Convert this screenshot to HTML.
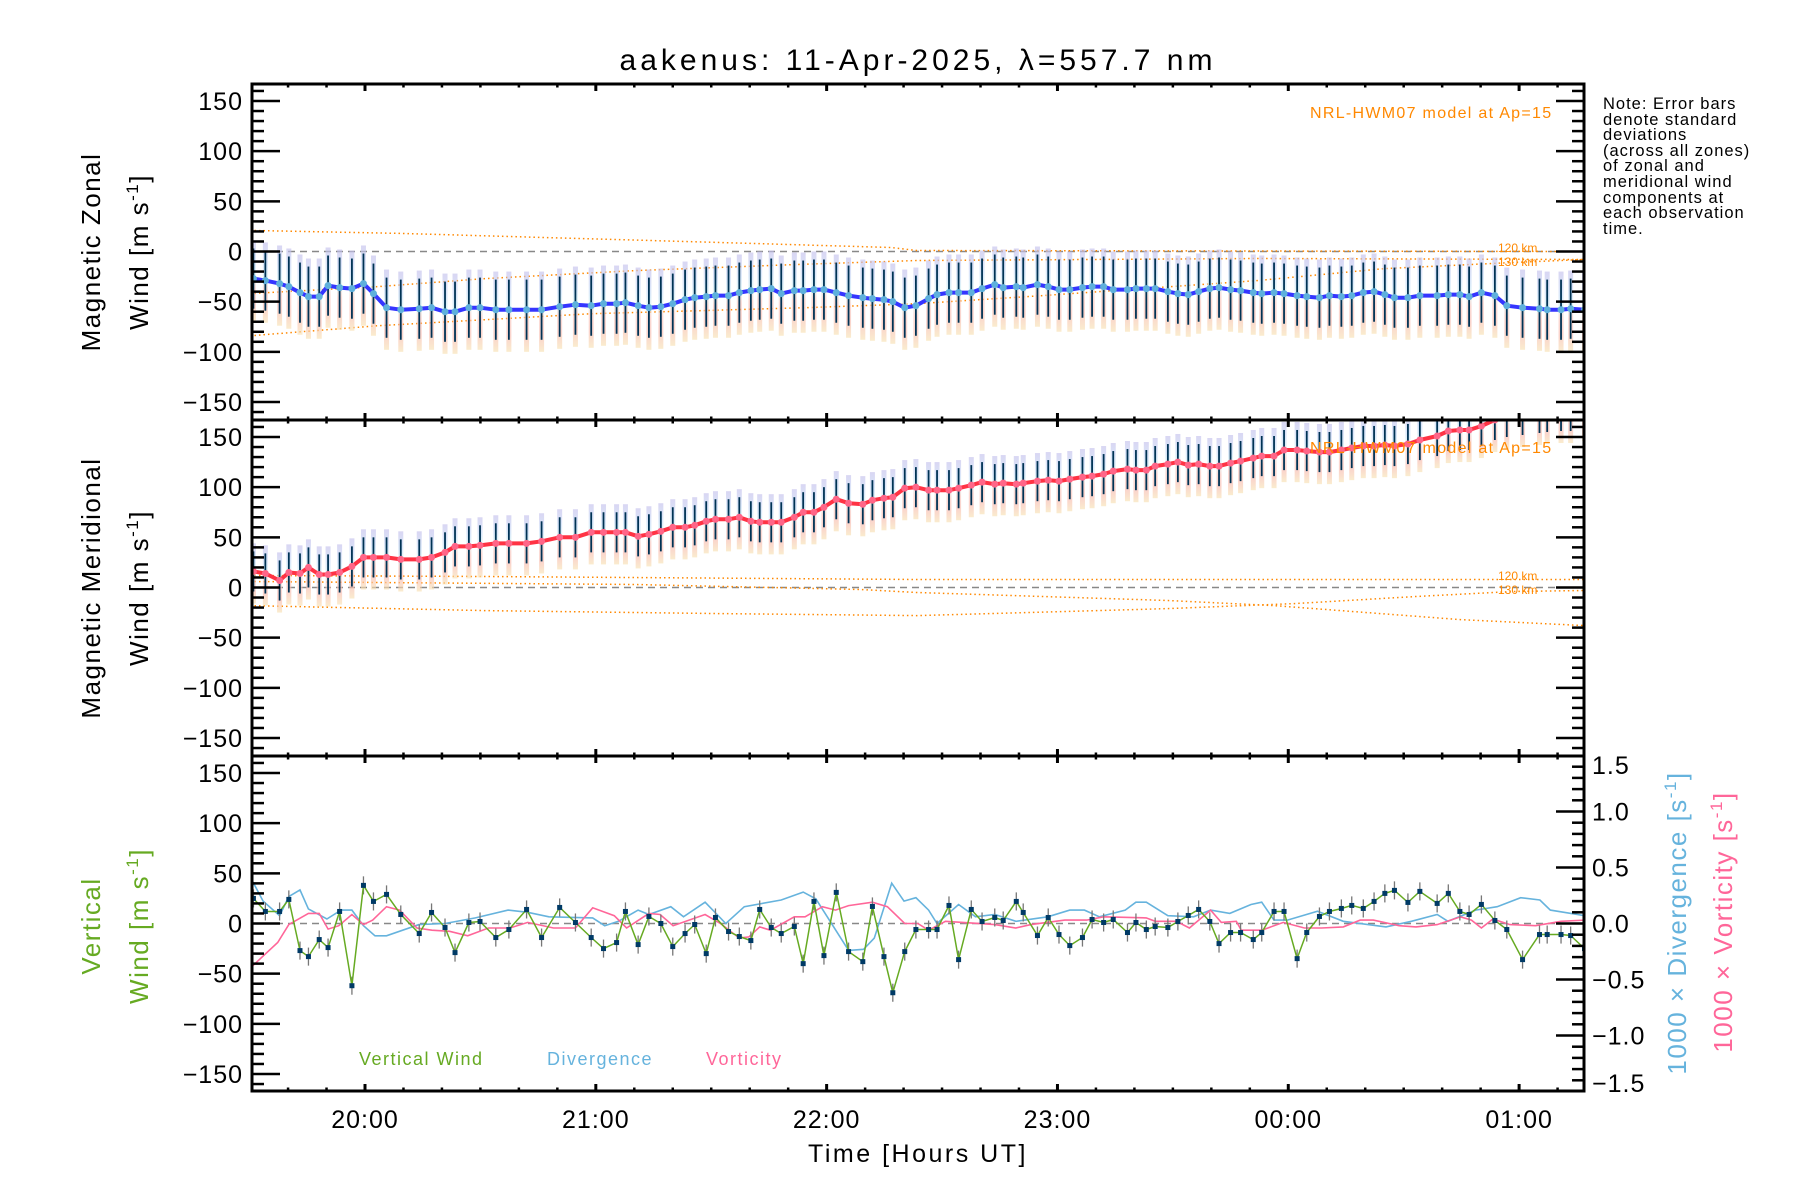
<!DOCTYPE html>
<html><head><meta charset="utf-8"><title>aakenus winds</title>
<style>
html,body{margin:0;padding:0;background:#fff;}
svg{display:block;font-family:"Liberation Sans",sans-serif;}
</style></head>
<body>
<svg id="chart" width="1800" height="1200" viewBox="0 0 1800 1200" xmlns="http://www.w3.org/2000/svg">
<defs>
<linearGradient id="zoneGrad" x1="0" y1="0" x2="0" y2="1">
<stop offset="0" stop-color="#c4c0ec"/><stop offset="0.3" stop-color="#c6dcf6"/><stop offset="0.45" stop-color="#d0f0f0"/><stop offset="0.6" stop-color="#f8c4bc"/><stop offset="0.8" stop-color="#f8bcb0"/><stop offset="1" stop-color="#f8e2b4"/>
</linearGradient>
<clipPath id="clip1"><rect x="252" y="84" width="1332" height="336"/></clipPath>
<clipPath id="clip2"><rect x="252" y="420" width="1332" height="336"/></clipPath>
<clipPath id="clip3"><rect x="252" y="756" width="1332" height="335"/></clipPath>
</defs>
<g id="layer"></g>
<text x="918" y="70" text-anchor="middle" font-size="30" letter-spacing="4">aakenus: 11-Apr-2025, λ=557.7 nm</text>
<text x="1310" y="118" font-size="16" letter-spacing="1.3" fill="#ff8800">NRL-HWM07 model at Ap=15</text>
<text x="1310" y="453" font-size="16" letter-spacing="1.3" fill="#ff8800">NRL-HWM07 model at Ap=15</text>
<text x="1498" y="252" font-size="12" fill="#ff8800">120 km</text>
<text x="1498" y="266" font-size="12" fill="#ff8800">130 km</text>
<text x="1498" y="580" font-size="12" fill="#ff8800">120 km</text>
<text x="1498" y="594" font-size="12" fill="#ff8800">130 km</text>
<g font-size="16.5" letter-spacing="1">
<text x="1603" y="109">Note: Error bars</text>
<text x="1603" y="125">denote standard</text>
<text x="1603" y="140">deviations</text>
<text x="1603" y="156">(across all zones)</text>
<text x="1603" y="171">of zonal and</text>
<text x="1603" y="187">meridional wind</text>
<text x="1603" y="203">components at</text>
<text x="1603" y="218">each observation</text>
<text x="1603" y="234">time.</text>
</g>
<text transform="translate(100,252) rotate(-90)" text-anchor="middle" font-size="26" letter-spacing="1.5">Magnetic Zonal</text>
<text transform="translate(148,252) rotate(-90)" text-anchor="middle" font-size="26" letter-spacing="1.5">Wind [m s<tspan font-size="17" dy="-10">-1</tspan><tspan dy="10">]</tspan></text>
<text transform="translate(100,588) rotate(-90)" text-anchor="middle" font-size="26" letter-spacing="1.5">Magnetic Meridional</text>
<text transform="translate(148,588) rotate(-90)" text-anchor="middle" font-size="26" letter-spacing="1.5">Wind [m s<tspan font-size="17" dy="-10">-1</tspan><tspan dy="10">]</tspan></text>
<text transform="translate(100,926) rotate(-90)" text-anchor="middle" font-size="26" letter-spacing="1.5" fill="#66aa22">Vertical</text>
<text transform="translate(148,926) rotate(-90)" text-anchor="middle" font-size="26" letter-spacing="1.5" fill="#66aa22">Wind [m s<tspan font-size="17" dy="-10">-1</tspan><tspan dy="10">]</tspan></text>
<text transform="translate(1686,923) rotate(-90)" text-anchor="middle" font-size="26" letter-spacing="1.5" fill="#66b3dd">1000 × Divergence [s<tspan font-size="17" dy="-10">-1</tspan><tspan dy="10">]</tspan></text>
<text transform="translate(1732,922) rotate(-90)" text-anchor="middle" font-size="26" letter-spacing="1.5" fill="#ff6699">1000 × Vorticity [s<tspan font-size="17" dy="-10">-1</tspan><tspan dy="10">]</tspan></text>
<text x="359" y="1065" font-size="18" letter-spacing="1.5" fill="#66aa22">Vertical Wind</text>
<text x="547" y="1065" font-size="18" letter-spacing="1.5" fill="#66b3dd">Divergence</text>
<text x="706" y="1065" font-size="18" letter-spacing="1.5" fill="#ff6699">Vorticity</text>
<text x="918" y="1162" text-anchor="middle" font-size="25" letter-spacing="2.5">Time [Hours UT]</text>
</svg>
<script>
// ---- data (time in minutes after 20:00 UT) ----
const T=[-29.0,-25.9,-22.2,-19.8,-16.9,-14.7,-11.9,-9.6,-6.6,-3.4,-0.4,2.2,5.6,9.3,14.1,17.3,20.8,23.4,27.0,29.9,34.0,37.4,42.0,45.9,50.6,54.7,58.8,62.0,65.4,67.7,71.0,73.8,76.9,80.0,83.2,85.7,88.7,91.1,94.5,97.3,100.3,102.6,105.6,108.2,111.6,113.9,116.7,119.3,122.5,125.7,129.4,131.9,134.9,137.2,140.3,143.2,146.5,148.7,151.8,154.3,157.6,160.4,163.7,165.9,169.3,171.1,174.8,177.6,180.4,183.2,186.5,189.0,192.0,194.5,198.2,200.4,203.1,205.4,208.7,211.3,214.0,216.7,219.6,222.0,225.0,227.6,230.9,233.1,236.3,238.9,242.3,244.8,248.1,250.7,253.8,256.5,259.5,262.3,265.1,267.6,271.1,274.2,278.7,281.6,284.6,287.0,290.2,293.7,296.8,300.9,305.3,307.3,310.9,313.4,317.0];
const ZON=[-27,-29,-32,-35,-41,-45,-45,-34,-36,-37,-32,-42,-56,-58,-57,-56,-60,-60,-56,-56,-58,-58,-58,-58,-55,-53,-54,-52,-52,-51,-54,-56,-55,-52,-48,-46,-45,-44,-44,-41,-39,-38,-37,-42,-39,-39,-38,-38,-41,-44,-46,-47,-48,-50,-56,-54,-47,-43,-41,-41,-41,-37,-33,-36,-35,-36,-33,-35,-38,-38,-36,-35,-35,-38,-38,-37,-37,-37,-40,-42,-43,-40,-37,-36,-38,-39,-41,-42,-41,-42,-44,-45,-46,-44,-45,-44,-41,-40,-43,-46,-46,-44,-44,-43,-43,-45,-41,-44,-54,-56,-57,-58,-58,-57,-58];
const MER=[16,14,7,15,14,20,13,13,15,21,30,30,30,28,28,30,35,41,41,42,44,44,44,46,50,50,55,55,55,55,51,53,56,60,60,62,66,68,68,70,66,65,65,65,70,75,75,80,88,84,83,87,89,90,99,100,97,97,97,99,102,105,103,104,103,104,106,107,106,108,110,111,113,116,118,117,117,121,123,125,122,123,121,121,124,126,129,131,131,137,137,136,135,135,137,139,141,141,142,141,143,147,151,156,157,157,161,167,170,172,174,175,176,176,178];
const VERT=[25,12,12,24,-27,-33,-16,-24,12,-62,38,22,29,9,-10,11,-4,-29,1,2,-14,-6,14,-14,16,1,-14,-25,-19,12,-21,7,0,-23,-10,-1,-30,6,-8,-13,-17,14,-4,-10,-3,-40,22,-32,31,-28,-38,17,-33,-69,-28,-6,-6,-6,18,-36,14,2,6,3,22,11,-12,6,-11,-22,-14,4,1,4,-9,1,-6,-3,-4,2,8,14,2,-20,-9,-9,-16,-9,12,12,-35,-9,7,12,15,18,15,22,30,33,21,32,20,30,12,9,19,3,-6,-36,-11,-11,-11,-12,-25];
const ZON_SD=30, MER_SD=20, VERT_SD=9;
const DIV_T=[-29.9,-26.5,-22.2,-19.8,-16.9,-14.7,-9.9,-6.2,-3.4,-0.4,2.6,5.6,14.0,20.8,28.7,37.2,42.3,47.8,59.2,62.3,65.9,71.0,73.8,79.5,82.8,88.4,93.8,98.6,108.2,113.9,117.2,125.7,129.6,132.4,136.9,140.1,143.2,146.5,148.7,154.3,158.7,163.7,169.2,177.5,183.2,187.0,190.9,197.6,200.4,203.1,208.7,215.4,219.8,224.8,230.3,233.1,236.3,239.8,247.6,254.3,265.4,272.0,278.7,281.5,288.7,294.3,300.4,305.4,308.1,317.0];
const DIV_V=[0.42,0.20,0.07,0.24,0.30,0.13,0.04,0.12,0.12,-0.02,-0.11,-0.11,-0.01,0.0,0.05,0.12,0.10,0.06,0.05,-0.02,0.02,0.12,0.08,0.15,0.06,0.19,0.0,0.15,0.21,0.28,0.22,-0.24,-0.23,-0.13,0.36,0.20,0.23,0.12,0.0,0.17,0.06,0.08,0.02,0.06,0.12,0.12,0.06,0.12,0.19,0.19,0.07,0.06,0.12,0.09,0.17,0.19,0.03,0.03,0.11,0.02,-0.03,0.02,0.08,0.02,0.12,0.15,0.23,0.21,0.12,0.07];
const VOR_T=[-29.9,-22.7,-19.8,-14.7,-11.9,-9.6,-6.8,-3.4,-0.4,2.0,5.6,9.0,13.5,17.4,22.0,26.7,32.1,37.7,42.3,49.0,54.7,59.2,64.8,68.0,73.8,76.7,80.1,88.4,92.4,97.3,99.8,102.6,105.4,111.6,114.4,118.9,122.3,125.7,131.9,135.8,140.3,143.7,146.5,150.9,155.4,163.7,169.2,173.1,181.9,187.6,192.0,203.1,205.4,210.9,214.3,219.8,222.6,226.5,227.8,233.1,238.7,244.2,248.6,254.3,258.7,262.1,268.8,273.2,278.7,284.8,287.6,290.2,293.2,297.6,304.3,310.9,317.0];
const VOR_V=[-0.40,-0.17,-0.01,0.09,0.09,-0.05,-0.02,0.08,-0.01,0.03,0.15,0.12,-0.04,-0.06,-0.07,-0.11,-0.04,-0.04,0.01,-0.04,-0.04,0.14,0.07,-0.04,0.09,0.08,-0.02,0.08,0.0,-0.13,-0.12,-0.03,-0.06,0.06,0.06,0.15,0.12,0.16,0.19,0.15,0.0,0.0,-0.06,0.02,0.01,-0.01,-0.04,-0.01,0.03,0.03,0.06,0.05,0.02,0.02,-0.04,0.12,0.01,0.02,-0.06,-0.06,0.01,-0.04,-0.04,-0.03,0.03,0.03,-0.02,-0.03,-0.01,0.06,0.03,-0.04,0.04,-0.01,-0.02,0.02,0.03];
// model (HWM07) curves
const MZ120_T=[-29.9,9.1,92.3,136.7,143.5,317], MZ120_V=[21,18,9,4,1,0];
const MZ130_T=[-29.9,3.4,31.2,70.2,112.3,143.5,231.9,317], MZ130_V=[-42,-35,-27,-19,-13,-9,-7,-8];
const MZ3_T=[-29.9,3.4,59,114.6,143.5,176.2,231.9,265.1,298.4,317], MZ3_V=[-84,-74,-62,-56,-52,-44,-29,-17,-11,-8];
const MM120_T=[-29.9,31.2,143.5,317], MM120_V=[12,11,8,8];
const MM130_T=[-29.9,31.2,92.3,143.5,208.7,241.6,273.2,298.4,317], MM130_V=[-18,-23,-26,-28,-21,-16,-9,-4,-3];
const MM3_T=[-29.9,70.2,128.8,143.5,208.7,236.3,284.7,317], MM3_V=[6,3,-2,-5,-13,-18,-32,-38];
const YTICKS=[-150,-100,-50,0,50,100,150];
const RTICKS=[-1.5,-1.0,-0.5,0.0,0.5,1.0,1.5];
const XTICK_LABELS=["20:00","21:00","22:00","23:00","00:00","01:00"];

// ---- geometry ----
const L=252,R=1584,PT=[84,420,756],PB=[420,756,1091];
const NS="http://www.w3.org/2000/svg";
const layer=document.getElementById('layer');
function X(t){return 365+t*3.847;}
function Yp(p,v){return PT[p]+17+(150-v)*301/300;}
function Yr(r){return 923.5-r*112;}
function mk(tag,attrs,parent){const e=document.createElementNS(NS,tag);for(const k in attrs)e.setAttribute(k,attrs[k]);(parent||layer).appendChild(e);return e;}
function grp(name,clip){const g=mk('g',clip?{'clip-path':'url(#'+clip+')'}:{});


return g;}
function pathD(ts,vs,yf){return ts.map((t,i)=>(i?'L':'M')+X(t).toFixed(1)+' '+yf(vs[i]).toFixed(1)).join(' ');}

// zero lines
[0,1,2].forEach(p=>{const l=mk('line',{x1:L,x2:R,y1:Yp(p,0),y2:Yp(p,0),stroke:'#888','stroke-width':1.5,'stroke-dasharray':'7,5'});

});

// model lines
function modelLine(p,ts,vs,name,clip){const g=grp(name,clip);const e=mk('path',{d:pathD(ts,vs,v=>Yp(p,v)),fill:'none',stroke:'#ff8800','stroke-width':1.5,'stroke-dasharray':'1.5,3'},g);

}
modelLine(0,MZ120_T,MZ120_V,'model-zonal-120km','clip1');
modelLine(0,MZ130_T,MZ130_V,'model-zonal-130km','clip1');
modelLine(0,MZ3_T,MZ3_V,'model-zonal-lower','clip1');
modelLine(1,MM120_T,MM120_V,'model-meridional-120km','clip2');
modelLine(1,MM130_T,MM130_V,'model-meridional-130km','clip2');
modelLine(1,MM3_T,MM3_V,'model-meridional-mid','clip2');

// wind panels
function windPanel(p,vals,sd,lineCol,dotCol,name,clip){
  const g=grp(name,clip);
  vals.forEach((v,i)=>{const x=X(T[i]);
    const b=mk('rect',{x:x-2.5,y:Yp(p,v+sd+8),width:5,height:Yp(p,v-sd-12)-Yp(p,v+sd+8),fill:'url(#zoneGrad)',opacity:0.65},g);
    
    
    const e=mk('line',{x1:x,x2:x,y1:Yp(p,v+sd),y2:Yp(p,v-sd),stroke:'#003355','stroke-width':1.8},g);
    
    });
  const ln=mk('path',{d:pathD(T,vals,v=>Yp(p,v)),fill:'none',stroke:lineCol,'stroke-width':4,'stroke-linejoin':'round'},g);
  
  
  vals.forEach((v,i)=>{const c=mk('circle',{cx:X(T[i]),cy:Yp(p,v),r:3.5,fill:dotCol},g);
    
    });
}
windPanel(0,ZON,ZON_SD,'#3535ff','#5eb0dc','zonal-wind','clip1');
windPanel(1,MER,MER_SD,'#ff3344','#ff6688','meridional-wind','clip2');

// bottom panel
(function(){
  const g=grp('vertical-panel','clip3');
  const dv=mk('path',{d:pathD(DIV_T,DIV_V,Yr),fill:'none',stroke:'#66b3dd','stroke-width':1.6},g);
  
  
  const vo=mk('path',{d:pathD(VOR_T,VOR_V,Yr),fill:'none',stroke:'#ff6699','stroke-width':1.6},g);
  
  
  VERT.forEach((v,i)=>{const x=X(T[i]);const e=mk('line',{x1:x,x2:x,y1:Yp(2,v+VERT_SD),y2:Yp(2,v-VERT_SD),stroke:'#777','stroke-width':1.3},g);
    
    });
  const vl=mk('path',{d:pathD(T,VERT,v=>Yp(2,v)),fill:'none',stroke:'#66aa22','stroke-width':1.5},g);
  
  
  VERT.forEach((v,i)=>{const r=mk('rect',{x:X(T[i])-2.5,y:Yp(2,v)-2.5,width:5,height:5,fill:'#003a66'},g);
    
    });
})();

// axes
const ax=grp('axes',null);
[0,1,2].forEach(p=>{
  const fr=mk('rect',{x:L,y:PT[p],width:R-L,height:PB[p]-PT[p],fill:'none',stroke:'#000','stroke-width':3},ax);
  
  
  for(let v=-160;v<=160;v+=10){const y=Yp(p,v);if(y<PT[p]+2||y>PB[p]-2)continue;
    const len=(v%50===0)?28:12;
    mk('line',{x1:L,x2:L+len,y1:y,y2:y,stroke:'#000','stroke-width':2.5},ax);
    if(p<2)mk('line',{x1:R,x2:R-len,y1:y,y2:y,stroke:'#000','stroke-width':2.5},ax);}
  YTICKS.forEach(v=>{const t=mk('text',{x:243,y:Yp(p,v)+9,'text-anchor':'end','font-size':25,'letter-spacing':1},ax);t.textContent=(v<0?'\u2212':'')+Math.abs(v);
    
    });
  for(let t=-30;t<=320;t+=10){const x=X(t);if(x<L+2||x>R-2)continue;const len=(t%60===0)?7:3.5;
    mk('line',{x1:x,x2:x,y1:PT[p],y2:PT[p]+len,stroke:'#000','stroke-width':(t%60===0)?3:2.5},ax);
    mk('line',{x1:x,x2:x,y1:PB[p],y2:PB[p]-len,stroke:'#000','stroke-width':(t%60===0)?3:2.5},ax);}
});
for(let r=-15;r<=15;r++){const y=Yr(r/10);const len=(r%5===0)?28:12;if(y<757||y>1090)continue;
  mk('line',{x1:R,x2:R-len,y1:y,y2:y,stroke:'#000','stroke-width':2.5},ax);}
RTICKS.forEach(r=>{let y=Yr(r)+9;if(r>=1.5)y=774;if(r<=-1.5)y=1092;
  const t=mk('text',{x:1592,y:y,'font-size':25,'letter-spacing':1},ax);t.textContent=(r<0?'\u2212':'')+Math.abs(r).toFixed(1);
  
  });
XTICK_LABELS.forEach((s,i)=>{const t=mk('text',{x:X(i*60),y:1128,'text-anchor':'middle','font-size':25,'letter-spacing':1},ax);t.textContent=s;
  
  });
</script>
</body></html>
